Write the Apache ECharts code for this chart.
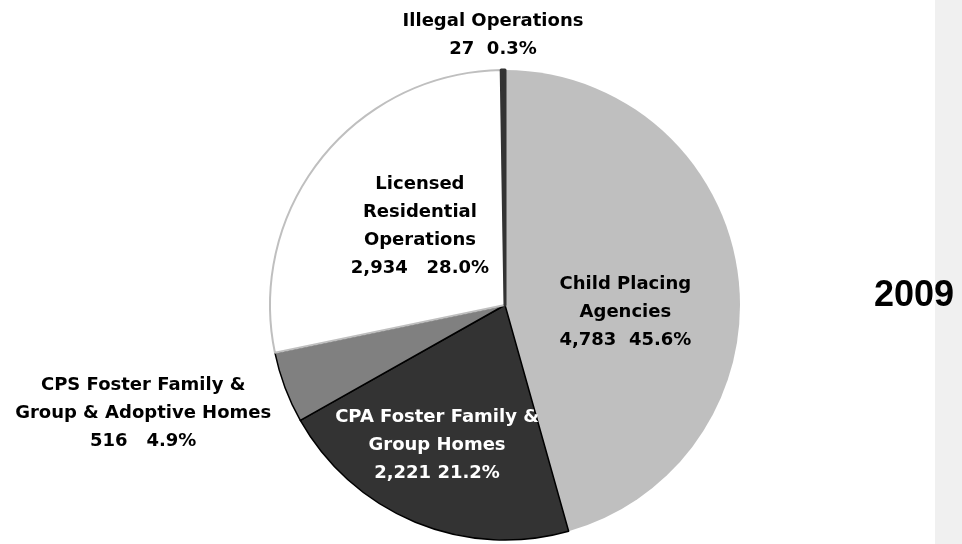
<!DOCTYPE html>
<html>
<head>
<meta charset="utf-8">
<script src="https://cdn.jsdelivr.net/npm/echarts@6/dist/echarts.min.js"></script>
<style>
  html, body { margin: 0; padding: 0; background: #fff; }
  #container { width: 962px; height: 544px; }
</style>
</head>
<body>
<div id="container"></div>
<script>
// data
const categories = ['Child Placing Agencies', 'CPA Foster Family & Group Homes',
    'CPS Foster Family & Group & Adoptive Homes', 'Licensed Residential Operations', 'Illegal Operations'];
const labelLines = ['Child Placing\nAgencies', 'CPA Foster Family &\nGroup Homes',
    'CPS Foster Family &\nGroup & Adoptive Homes', 'Licensed\nResidential\nOperations', 'Illegal Operations'];
const counts = [4783, 2221, 516, 2934, 27];
const gaps = ['  ', ' ', '   ', '   ', '  '];
const yearLabel = '2009';

const sliceStyles = [
    { color: '#bfbfbf', borderWidth: 0 },
    { color: '#333333', borderColor: '#000', borderWidth: 1.5 },
    { color: '#808080', borderColor: '#000', borderWidth: 1.5 },
    { color: '#ffffff', borderColor: '#bfbfbf', borderWidth: 2 },
    { color: '#333333', borderColor: '#333333', borderWidth: 3 }
];
const labelOffsets = [[1, 24], [-22, 29], [-249, 66], [9, -3], [-11, -149]];
const labelColors = ['#000', '#fff', '#000', '#000', '#000'];

const chart = echarts.init(document.getElementById('container'), null, { renderer: 'canvas' });

const option = {
    animation: false,
    graphic: [
        { type: 'rect', shape: { x: 935, y: 0, width: 27, height: 544 }, style: { fill: '#f0f0f0' }, z: -1 },
        {
            type: 'text', x: 914, y: 296,
            style: { text: yearLabel, font: 'bold 36px "Liberation Sans"', fill: '#000', align: 'center', verticalAlign: 'middle' }
        }
    ],
    series: [{
        type: 'pie',
        center: [505, 305],
        radius: 235,
        startAngle: 90,
        clockwise: true,
        percentPrecision: 1,
        label: {
            position: 'inside',
            fontFamily: 'DejaVu Sans',
            fontWeight: 'bold',
            fontSize: 18,
            lineHeight: 28,
            align: 'center'
        },
        labelLine: { show: false },
        emphasis: { disabled: true },
        data: categories.map((name, i) => ({
            name: name,
            value: counts[i],
            itemStyle: sliceStyles[i],
            label: {
                color: labelColors[i],
                offset: labelOffsets[i],
                formatter: p => labelLines[i] + '\n' + counts[i].toLocaleString('en-US') + gaps[i] + p.percent.toFixed(1) + '%'
            }
        }))
    }]
};

chart.setOption(option);
window.addEventListener('resize', () => chart.resize());
</script>
</body>
</html>
